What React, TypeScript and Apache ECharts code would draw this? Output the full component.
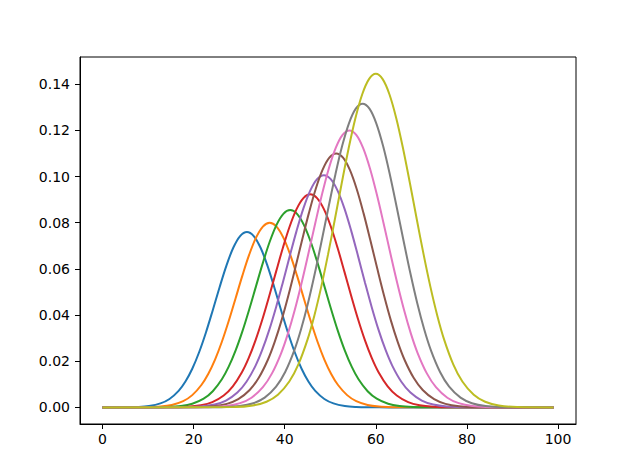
import React, { useEffect, useRef } from "react";
import * as echarts from "echarts";

const COLORS = ["#1f77b4", "#ff7f0e", "#2ca02c", "#d62728", "#9467bd", "#8c564b", "#e377c2", "#7f7f7f", "#bcbd22"];
const X_TICKS = [0, 20, 40, 60, 80, 100];
const Y_TICKS = [0, 0.02, 0.04, 0.06, 0.08, 0.1, 0.12, 0.14];

const xBlue = [0, 4.7, 7.7, 10.2, 12.7, 14.7, 16.7, 18.2, 19.7, 21.2, 22.7, 24.2, 25.7, 27.2, 28.7, 30.2, 31.7, 33.2, 34.7, 36.2, 37.7, 39.2, 40.7, 42.2, 43.7, 45.2, 46.7, 48.7, 50.7, 53.2, 55.7, 58.7, 62.7, 99];
const yBlue = [0, 0.00004, 0.00018, 0.00059, 0.00172, 0.00365, 0.00715, 0.01121, 0.01675, 0.02388, 0.03246, 0.0421, 0.05208, 0.06144, 0.06915, 0.07422, 0.076, 0.07422, 0.06915, 0.06144, 0.05208, 0.0421, 0.03246, 0.02388, 0.01675, 0.01121, 0.00715, 0.00365, 0.00172, 0.00059, 0.00018, 0.00004, 0, 0];

const xOrange = [0, 5.7, 9.7, 12.7, 15.2, 17.7, 19.7, 21.7, 23.2, 24.7, 26.2, 27.7, 29.2, 30.7, 32.2, 33.7, 35.2, 36.7, 38.2, 39.7, 41.2, 42.7, 44.2, 45.7, 47.2, 48.7, 50.2, 51.7, 53.7, 55.7, 58.2, 60.7, 63.7, 67.7, 99];
const yOrange = [0, 0.00001, 0.00009, 0.00036, 0.00105, 0.0027, 0.00531, 0.00969, 0.01447, 0.02072, 0.02843, 0.03741, 0.04719, 0.05707, 0.06616, 0.07352, 0.07833, 0.08, 0.07833, 0.07352, 0.06616, 0.05707, 0.04719, 0.03741, 0.02843, 0.02072, 0.01447, 0.00969, 0.00531, 0.0027, 0.00105, 0.00036, 0.00009, 0.00001, 0];

const xGreen = [0, 10.2, 14.2, 17.2, 19.7, 22.2, 24.2, 26.2, 27.7, 29.2, 30.7, 32.2, 33.7, 35.2, 36.7, 38.2, 39.7, 41.2, 42.7, 44.2, 45.7, 47.2, 48.7, 50.2, 51.7, 53.2, 54.7, 56.2, 58.2, 60.2, 62.7, 65.2, 68.2, 72.2, 99];
const yGreen = [0, 0.00002, 0.00016, 0.00058, 0.00156, 0.00376, 0.00701, 0.01219, 0.01765, 0.02458, 0.03292, 0.04241, 0.05254, 0.06261, 0.07175, 0.07909, 0.08385, 0.0855, 0.08385, 0.07909, 0.07175, 0.06261, 0.05254, 0.04241, 0.03292, 0.02458, 0.01765, 0.01219, 0.00701, 0.00376, 0.00156, 0.00058, 0.00016, 0.00002, 0];

const xRed = [0, 14.6, 18.6, 21.6, 24.1, 26.6, 28.6, 30.6, 32.1, 33.6, 35.1, 36.6, 38.1, 39.6, 41.1, 42.6, 44.1, 45.6, 47.1, 48.6, 50.1, 51.6, 53.1, 54.6, 56.1, 57.6, 59.1, 60.6, 62.6, 64.6, 67.1, 69.6, 72.6, 76.6, 99];
const yRed = [0, 0.00004, 0.00027, 0.00091, 0.00227, 0.00512, 0.00911, 0.01522, 0.02143, 0.02912, 0.03816, 0.04824, 0.05881, 0.06917, 0.07848, 0.08588, 0.09065, 0.0923, 0.09065, 0.08588, 0.07848, 0.06917, 0.05881, 0.04824, 0.03816, 0.02912, 0.02143, 0.01522, 0.00911, 0.00512, 0.00227, 0.00091, 0.00027, 0.00004, 0];

const xPurple = [0, 17.6, 21.6, 24.6, 27.1, 29.6, 31.6, 33.6, 35.1, 36.6, 38.1, 39.6, 41.1, 42.6, 44.1, 45.6, 47.1, 48.6, 50.1, 51.6, 53.1, 54.6, 56.1, 57.6, 59.1, 60.6, 62.1, 63.6, 65.6, 67.6, 70.1, 72.6, 75.6, 79.6, 99];
const yPurple = [0, 0.00007, 0.00039, 0.00125, 0.00297, 0.00643, 0.01112, 0.01811, 0.02509, 0.03358, 0.04342, 0.05426, 0.06553, 0.07646, 0.08621, 0.09393, 0.09889, 0.1006, 0.09889, 0.09393, 0.08621, 0.07646, 0.06553, 0.05426, 0.04342, 0.03358, 0.02509, 0.01811, 0.01112, 0.00643, 0.00297, 0.00125, 0.00039, 0.00007, 0];

const xBrown = [0, 20.3, 24.3, 27.3, 29.8, 32.3, 34.3, 36.3, 37.8, 39.3, 40.8, 42.3, 43.8, 45.3, 46.8, 48.3, 49.8, 51.3, 52.8, 54.3, 55.8, 57.3, 58.8, 60.3, 61.8, 63.3, 64.8, 66.3, 68.3, 70.3, 72.8, 75.3, 78.3, 82.3, 99];
const yBrown = [0, 0.00009, 0.00049, 0.00152, 0.00354, 0.00751, 0.01282, 0.02064, 0.02837, 0.0377, 0.04846, 0.06023, 0.0724, 0.08416, 0.09462, 0.10288, 0.10818, 0.11, 0.10818, 0.10288, 0.09462, 0.08416, 0.0724, 0.06023, 0.04846, 0.0377, 0.02837, 0.02064, 0.01282, 0.00751, 0.00354, 0.00152, 0.00049, 0.00009, 0];

const xPink = [0, 23.2, 27.2, 30.2, 32.7, 35.2, 37.2, 39.2, 40.7, 42.2, 43.7, 45.2, 46.7, 48.2, 49.7, 51.2, 52.7, 54.2, 55.7, 57.2, 58.7, 60.2, 61.7, 63.2, 64.7, 66.2, 67.7, 69.2, 71.2, 73.2, 75.7, 78.2, 81.2, 85.2, 99];
const yPink = [0, 0.00011, 0.0006, 0.00183, 0.00419, 0.00874, 0.01473, 0.02344, 0.03197, 0.04219, 0.05391, 0.06666, 0.07978, 0.09241, 0.1036, 0.11241, 0.11806, 0.12, 0.11806, 0.11241, 0.1036, 0.09241, 0.07978, 0.06666, 0.05391, 0.04219, 0.03197, 0.02344, 0.01473, 0.00874, 0.00419, 0.00183, 0.0006, 0.00011, 0];

const xGray = [0, 26.1, 30.1, 33.1, 35.6, 38.1, 40.1, 42.1, 43.6, 45.1, 46.6, 48.1, 49.6, 51.1, 52.6, 54.1, 55.6, 57.1, 58.6, 60.1, 61.6, 63.1, 64.6, 66.1, 67.6, 69.1, 70.6, 72.1, 74.1, 76.1, 78.6, 81.1, 84.1, 88.1, 99];
const yGray = [0, 0.0001, 0.00058, 0.00182, 0.00423, 0.00898, 0.01534, 0.02469, 0.03394, 0.0451, 0.05797, 0.07206, 0.08662, 0.10069, 0.1132, 0.12308, 0.12942, 0.1316, 0.12942, 0.12308, 0.1132, 0.10069, 0.08662, 0.07206, 0.05797, 0.0451, 0.03394, 0.02469, 0.01534, 0.00898, 0.00423, 0.00182, 0.00058, 0.0001, 0];

const xOlive = [0, 29, 33, 36, 38.5, 41, 43, 45, 46.5, 48, 49.5, 51, 52.5, 54, 55.5, 57, 58.5, 60, 61.5, 63, 64.5, 66, 67.5, 69, 70.5, 72, 73.5, 75, 77, 79, 81.5, 84, 87, 91, 99];
const yOlive = [0, 0.00016, 0.00083, 0.00244, 0.00546, 0.01119, 0.01864, 0.02934, 0.03972, 0.05209, 0.06616, 0.08139, 0.097, 0.11196, 0.12518, 0.13557, 0.14221, 0.1445, 0.14221, 0.13557, 0.12518, 0.11196, 0.097, 0.08139, 0.06616, 0.05209, 0.03972, 0.02934, 0.01864, 0.01119, 0.00546, 0.00244, 0.00083, 0.00016, 0];

const CURVES: [number[], number[]][] = [
  [xBlue, yBlue],
  [xOrange, yOrange],
  [xGreen, yGreen],
  [xRed, yRed],
  [xPurple, yPurple],
  [xBrown, yBrown],
  [xPink, yPink],
  [xGray, yGray],
  [xOlive, yOlive],
];

const FONT = "DejaVu Sans";

export default function App() {
  const ref = useRef<HTMLDivElement>(null);
  useEffect(() => {
    const chart = echarts.init(ref.current!, null, { renderer: "svg" });
    chart.setOption({
      animation: false,
      backgroundColor: "#ffffff",
      grid: {
        left: 80,
        top: 57,
        width: 496,
        height: 367,
        show: true,
        borderColor: "#000",
        borderWidth: 1,
        backgroundColor: "transparent",
      },
      xAxis: {
        type: "value",
        min: -4.95,
        max: 103.95,
        axisLine: { show: true, onZero: false, lineStyle: { color: "#000", width: 1 } },
        axisTick: { show: true, customValues: X_TICKS, length: 5, lineStyle: { color: "#000", width: 1 } },
        axisLabel: {
          customValues: X_TICKS,
          color: "#000",
          fontSize: 14,
          fontFamily: FONT,
          margin: 8,
        },
        splitLine: { show: false },
      },
      yAxis: {
        type: "value",
        min: -0.0072,
        max: 0.1518,
        axisLine: { show: true, onZero: false, lineStyle: { color: "#000", width: 1 } },
        axisTick: { show: true, customValues: Y_TICKS, length: 5, lineStyle: { color: "#000", width: 1 } },
        axisLabel: {
          customValues: Y_TICKS,
          color: "#000",
          fontSize: 14,
          fontFamily: FONT,
          margin: 10,
          formatter: (v: number) => v.toFixed(2),
        },
        splitLine: { show: false },
      },
      series: CURVES.map(([xs, ys], i) => ({
        type: "line",
        data: xs.map((x, j) => [x, ys[j]]),
        showSymbol: false,
        symbol: "none",
        smooth: 0.35,
        lineStyle: { color: COLORS[i], width: 2 },
        itemStyle: { color: COLORS[i] },
      })),
    });
    return () => chart.dispose();
  }, []);
  return <div ref={ref} style={{ position: "absolute", left: 0, top: 0, width: 640, height: 476 }} />;
}
